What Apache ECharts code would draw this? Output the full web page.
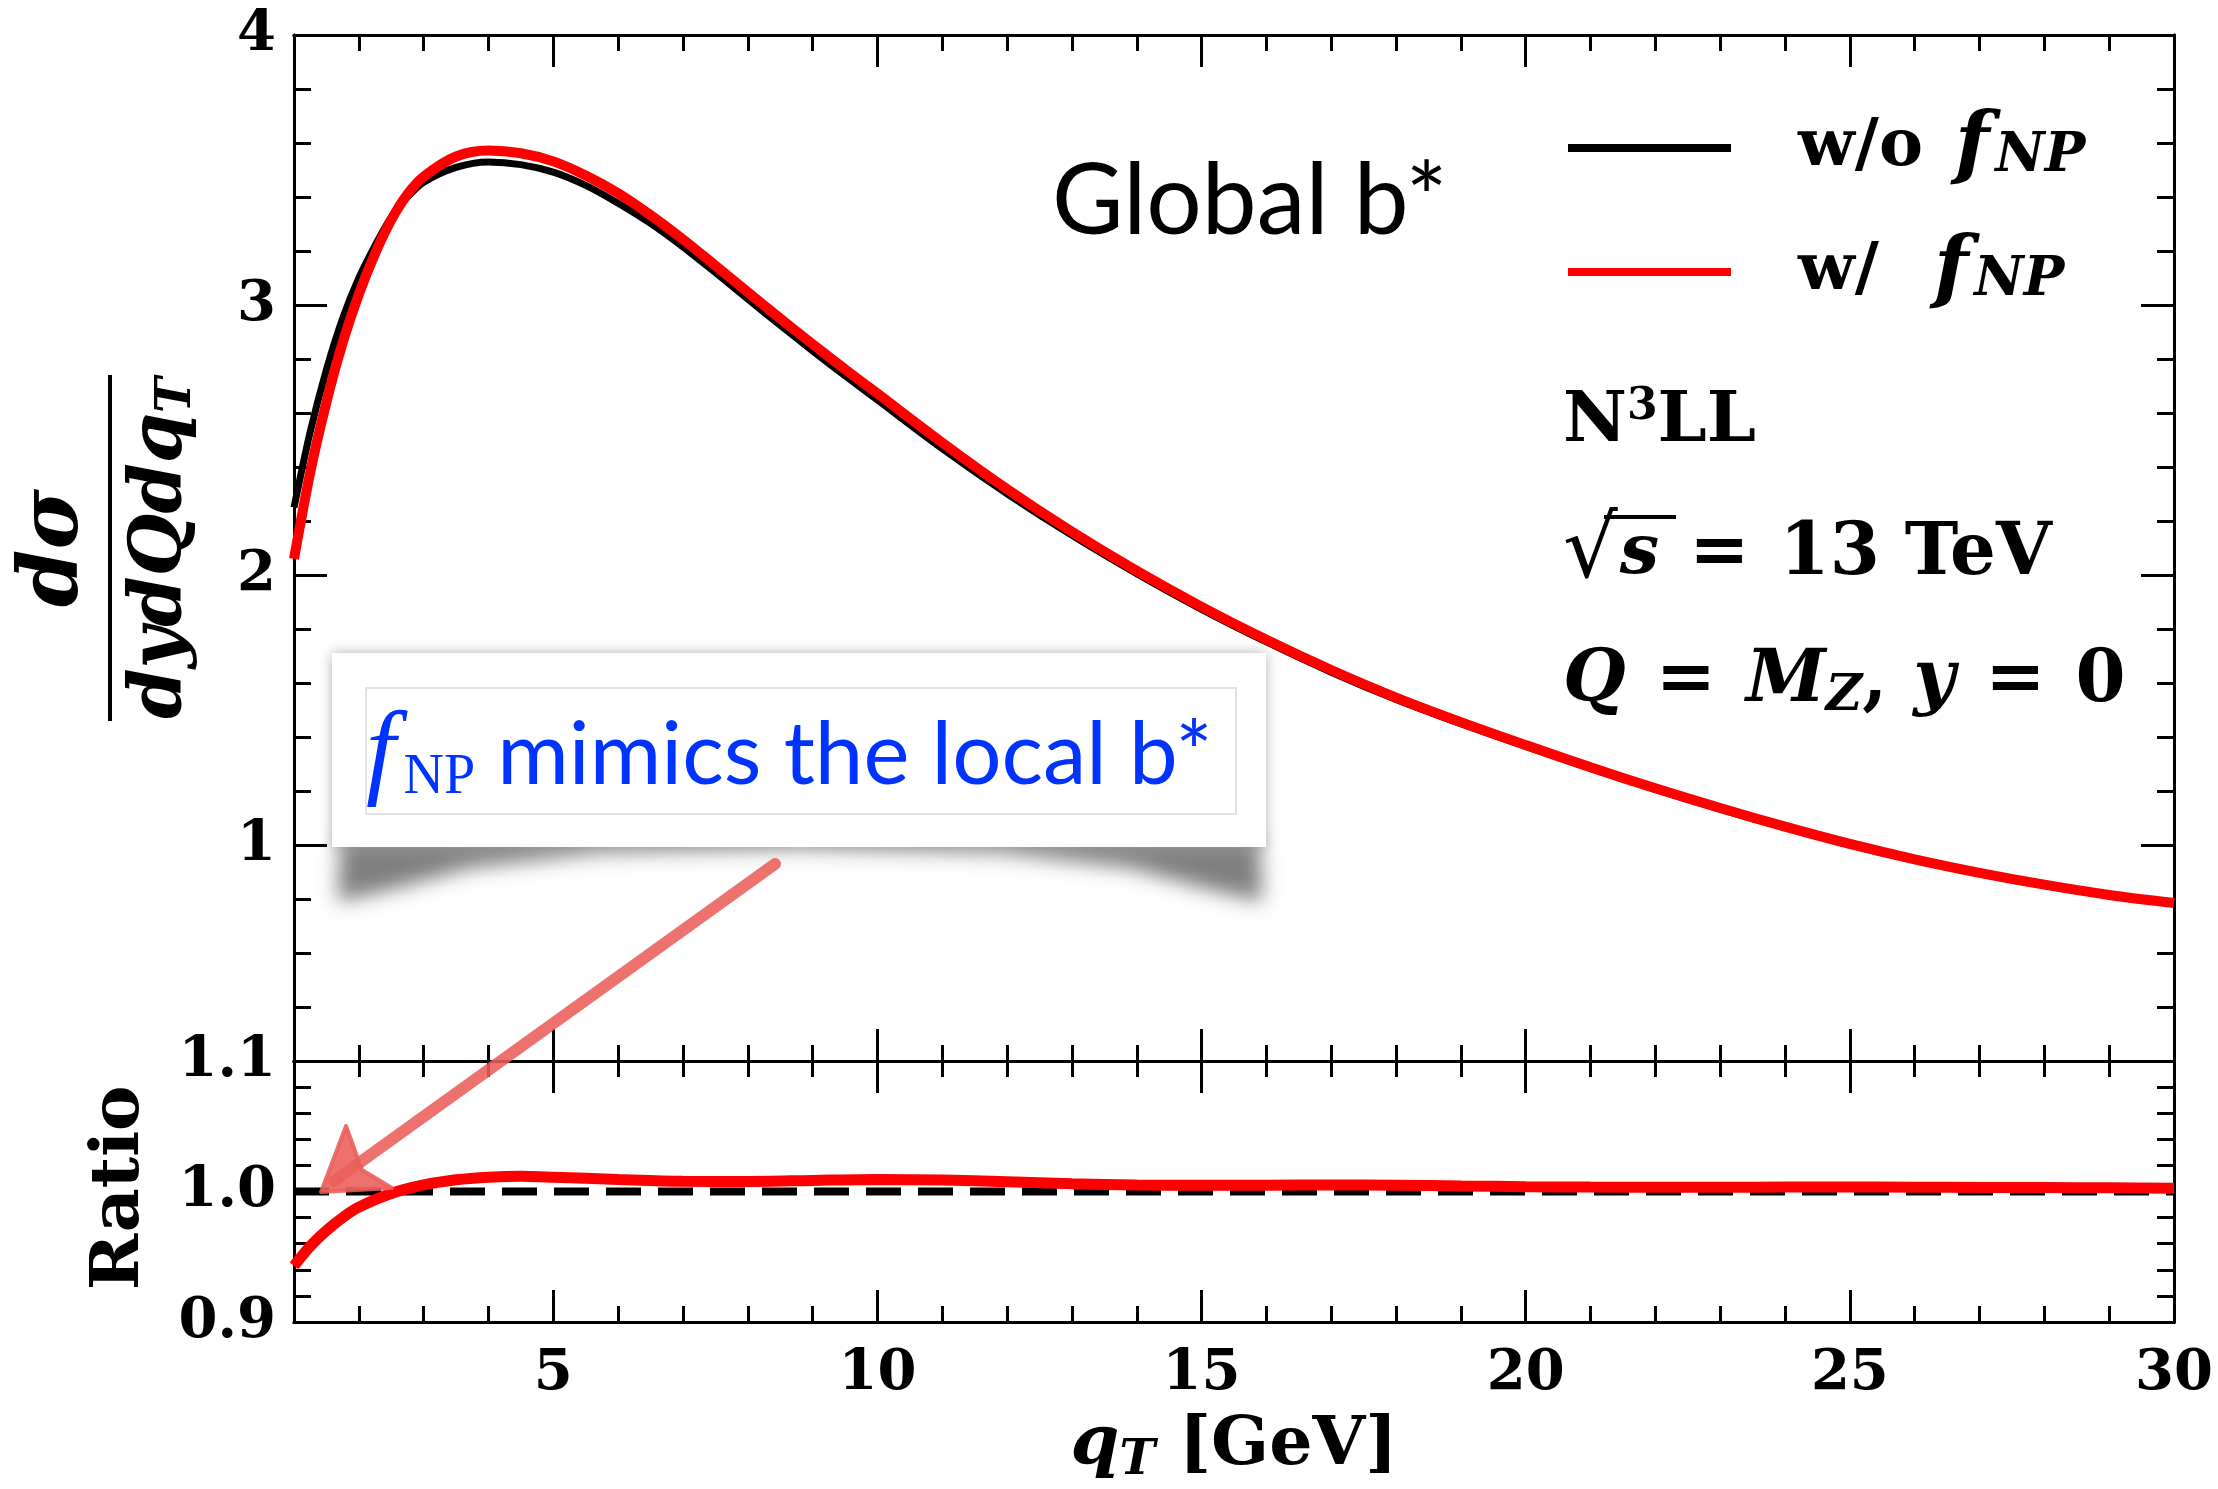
<!DOCTYPE html>
<html>
<head>
<meta charset="utf-8">
<title>Global b*</title>
<script src="https://cdn.jsdelivr.net/npm/echarts@6/dist/echarts.min.js"></script>
<style>
	html, body { margin: 0; padding: 0; background: #fff; }
	#chart { width: 2218px; height: 1489px; }
</style>
</head>
<body>
<div id="chart"></div>
<script>
// upper panel: q_T grid and the two cross sections
const qT = [1, 1.25, 1.5, 1.75, 2, 2.25, 2.5, 2.75, 3, 3.5, 4, 4.5, 5, 5.5, 6, 6.5, 7, 7.5, 8, 8.5, 9, 9.5, 10, 11, 12, 13, 14, 15, 16, 17, 18, 19, 20, 21, 22, 23, 24, 25, 26, 27, 28, 29, 30]
const withoutNP = [2.25, 2.53, 2.76, 2.95, 3.10, 3.22, 3.325, 3.40, 3.455, 3.51, 3.53, 3.52, 3.492, 3.443, 3.377, 3.302, 3.215, 3.12, 3.022, 2.925, 2.83, 2.738, 2.648, 2.468, 2.301, 2.147, 2.005, 1.873, 1.752, 1.64, 1.539, 1.449, 1.365, 1.284, 1.206, 1.133, 1.064, 1.0, 0.944, 0.894, 0.851, 0.813, 0.783]
const withNP = [2.06, 2.38, 2.64, 2.86, 3.04, 3.19, 3.315, 3.41, 3.475, 3.55, 3.572, 3.562, 3.532, 3.48, 3.414, 3.333, 3.243, 3.146, 3.048, 2.95, 2.855, 2.762, 2.672, 2.49, 2.318, 2.16, 2.015, 1.882, 1.76, 1.648, 1.546, 1.455, 1.37, 1.288, 1.21, 1.137, 1.068, 1.004, 0.947, 0.897, 0.853, 0.815, 0.785]

// lower panel: ratio w/ over w/o
const ratioQt = [1, 1.25, 1.5, 1.75, 2, 2.5, 3, 3.5, 4, 4.5, 5, 6, 7, 8, 9, 10, 11, 12, 13, 14, 15, 16, 17, 18, 19, 20, 21, 22, 23, 24, 25, 26, 27, 28, 29, 30]
const ratio = [0.943, 0.958, 0.970, 0.980, 0.988, 0.9985, 1.005, 1.009, 1.011, 1.0117, 1.011, 1.0092, 1.0078, 1.0077, 1.0085, 1.0092, 1.0088, 1.0075, 1.006, 1.005, 1.0047, 1.0048, 1.005, 1.0048, 1.0042, 1.0037, 1.0034, 1.0033, 1.0033, 1.0034, 1.0034, 1.0033, 1.0031, 1.003, 1.0028, 1.0025]
const unity = [1, 1]
const unityQt = [1, 30]

// ticks and tick labels
const xLabels = [5, 10, 15, 20, 25, 30]
const xMajor = [5, 10, 15, 20, 25]
const xMinor = [2, 3, 4, 6, 7, 8, 9, 11, 12, 13, 14, 16, 17, 18, 19, 21, 22, 23, 24, 26, 27, 28, 29]
const sigmaLabels = [1, 2, 3, 4]
const sigmaMajor = [1, 2, 3]
const sigmaMinor = [0.4, 0.6, 0.8, 1.2, 1.4, 1.6, 1.8, 2.2, 2.4, 2.6, 2.8, 3.2, 3.4, 3.6, 3.8]
const ratioLabels = [0.9, 1.0, 1.1]
const ratioMajor = [1.0]
const ratioMinor = [0.92, 0.94, 0.96, 0.98, 1.02, 1.04, 1.06, 1.08]

const serif = 'DejaVu Serif'
const axisStroke = { color: '#000', width: 3 }
const BLUE = '#0033ff'
const ARROW = '#ea5f5a'

const xAxisOf = (grid, position, ticks, len, labels) => ({
	type: 'value',
	gridIndex: grid,
	position,
	min: 1,
	max: 30,
	axisLine: { show: true, onZero: false, lineStyle: axisStroke },
	axisTick: { show: true, inside: true, length: len, customValues: ticks, lineStyle: axisStroke },
	axisLabel: labels
		? { show: true, customValues: labels, margin: 24, color: '#000', fontFamily: serif, fontWeight: 'bold', fontSize: 56 }
		: { show: false },
	splitLine: { show: false }
})

const yAxisOf = (grid, position, min, max, ticks, len, labels, fmt) => ({
	type: 'value',
	gridIndex: grid,
	position,
	min,
	max,
	axisLine: { show: true, onZero: false, lineStyle: axisStroke },
	axisTick: { show: true, inside: true, length: len, customValues: ticks, lineStyle: axisStroke },
	axisLabel: labels
		? { show: true, customValues: labels, margin: 18, color: '#000', fontFamily: serif, fontWeight: 'bold', fontSize: 56, formatter: fmt }
		: { show: false },
	splitLine: { show: false }
})

const pairs = (xs, ys) => xs.map((x, i) => [x, ys[i]])

const chart = echarts.init(document.getElementById('chart'))

// math-like rich text pieces
const bold = (size, lh) => ({ fontFamily: serif, fontWeight: 'bold', fontSize: size, lineHeight: lh, color: '#000', fill: '#000' })
const ital = (size, lh) => ({ fontFamily: serif, fontStyle: 'italic', fontWeight: 'bold', fontSize: size, lineHeight: lh, color: '#000', fill: '#000' })
const sub = (size, lh) => ({ ...ital(size, lh), verticalAlign: 'bottom' })

const legendRich = {
	gap: { width: 62 },
	b: bold(66, 72),
	f: { ...ital(80, 72), padding: [0, 6, 0, 32] },
	s: sub(54, 36)
}

const option = {
	animation: false,
	backgroundColor: '#fff',
	grid: [
		{ left: 294, top: 35, width: 1880, height: 1026 },
		{ left: 294, top: 1061, width: 1880, height: 261 }
	],
	xAxis: [
		xAxisOf(0, 'bottom', xMajor, 32),
		xAxisOf(0, 'bottom', xMinor, 16),
		xAxisOf(0, 'top', xMajor, 32),
		xAxisOf(0, 'top', xMinor, 16),
		xAxisOf(1, 'bottom', xMajor, 32, xLabels),
		xAxisOf(1, 'bottom', xMinor, 16),
		xAxisOf(1, 'top', xMajor, 32),
		xAxisOf(1, 'top', xMinor, 16)
	],
	yAxis: [
		yAxisOf(0, 'left', 0.2, 4, sigmaMajor, 33, sigmaLabels),
		yAxisOf(0, 'left', 0.2, 4, sigmaMinor, 17),
		yAxisOf(0, 'right', 0.2, 4, sigmaMajor, 33),
		yAxisOf(0, 'right', 0.2, 4, sigmaMinor, 17),
		yAxisOf(1, 'left', 0.9, 1.1, ratioMajor, 33, ratioLabels, (v) => v.toFixed(1)),
		yAxisOf(1, 'left', 0.9, 1.1, ratioMinor, 17),
		yAxisOf(1, 'right', 0.9, 1.1, ratioMajor, 33),
		yAxisOf(1, 'right', 0.9, 1.1, ratioMinor, 17)
	],
	legend: {
		orient: 'vertical',
		left: 1563,
		top: 103,
		itemWidth: 163,
		itemHeight: 8,
		itemGap: 44,
		icon: 'rect',
		data: ['wo', 'w'],
		formatter: (name) => (name === 'wo' ? '{gap|}{b|w/o}{f|f}{s|NP}' : '{gap|}{b|w/ }{f|f}{s|NP}'),
		textStyle: { rich: legendRich }
	},
	series: [
		{
			name: 'wo',
			type: 'line',
			xAxisIndex: 0,
			yAxisIndex: 0,
			data: pairs(qT, withoutNP),
			showSymbol: false,
			smooth: 0.3,
			color: '#000',
			lineStyle: { color: '#000', width: 7 },
			z: 3
		},
		{
			name: 'w',
			type: 'line',
			xAxisIndex: 0,
			yAxisIndex: 0,
			data: pairs(qT, withNP),
			showSymbol: false,
			smooth: 0.3,
			color: '#ff0000',
			lineStyle: { color: '#ff0000', width: 10 },
			z: 4
		},
		{
			name: 'unity',
			type: 'line',
			xAxisIndex: 4,
			yAxisIndex: 4,
			data: pairs(unityQt, unity),
			showSymbol: false,
			lineStyle: { color: '#000', width: 8, type: [35, 17] },
			z: 3
		},
		{
			name: 'ratio',
			type: 'line',
			xAxisIndex: 4,
			yAxisIndex: 4,
			data: pairs(ratioQt, ratio),
			showSymbol: false,
			smooth: 0.3,
			lineStyle: { color: '#ff0000', width: 11 },
			z: 4
		}
	],
	graphic: [
		// curled shadow under the note (shape kept off screen, only its blur is drawn)
		{
			type: 'polygon',
			z: 90,
			shape: {
				points: [[-2660, 842], [-1740, 842], [-1738, 902], [-1790, 890], [-1870, 868], [-2000, 853], [-2200, 849], [-2400, 853], [-2530, 868], [-2610, 890], [-2662, 902]]
			},
			style: { fill: '#000', shadowBlur: 20, shadowColor: 'rgba(0,0,0,0.5)', shadowOffsetX: 3000 }
		},
		{
			type: 'rect',
			z: 91,
			shape: { x: 332, y: 653, width: 934, height: 194 },
			style: { fill: '#fff', shadowBlur: 12, shadowColor: 'rgba(0,0,0,0.3)' }
		},
		{
			type: 'rect',
			z: 92,
			shape: { x: 366, y: 688, width: 870, height: 126 },
			style: { fill: 'none', stroke: '#e2e2e2', lineWidth: 2 }
		},
		{
			type: 'text',
			z: 93,
			x: 366,
			y: 756,
			style: {
				text: '{f|f}{np|NP}{t| mimics the local b*}',
				verticalAlign: 'middle',
				rich: {
					f: { fontFamily: 'Liberation Serif', fontStyle: 'italic', fontSize: 106, lineHeight: 100, padding: [0, 8, 0, 0], fill: BLUE },
					np: { fontFamily: 'Liberation Serif', fontSize: 56, lineHeight: 66, verticalAlign: 'bottom', fill: BLUE },
					t: { fontFamily: 'Lato', fontSize: 87, lineHeight: 100, fill: BLUE }
				}
			}
		},
		// hand drawn arrow towards the ratio at small q_T
		{
			type: 'polyline',
			z: 95,
			shape: { points: [[775, 864], [334, 1181]] },
			style: { stroke: ARROW, lineWidth: 12, lineCap: 'round', opacity: 0.88 }
		},
		{
			type: 'polygon',
			z: 95,
			shape: { points: [[346, 1126], [321, 1192], [392, 1188], [362, 1170]] },
			style: { fill: ARROW, stroke: ARROW, lineWidth: 4, lineJoin: 'round', opacity: 0.88 }
		},
		{
			type: 'text',
			z: 80,
			x: 1052,
			y: 202,
			style: { text: 'Global b*', fontFamily: 'Lato', fontSize: 98, fill: '#000', verticalAlign: 'middle' }
		},
		{
			type: 'text',
			z: 80,
			x: 1563,
			y: 423,
			style: {
				text: '{b|N}{p|3}{b|LL}',
				verticalAlign: 'middle',
				rich: {
					b: bold(70, 74),
					p: { ...bold(44, 46), verticalAlign: 'top' }
				}
			}
		},
		{
			type: 'text',
			z: 80,
			x: 1563,
			y: 555,
			style: {
				text: '{r|√}{i|s}{e|=}{b|13 TeV}',
				verticalAlign: 'middle',
				rich: {
					r: { fontFamily: serif, fontSize: 86, lineHeight: 80, fill: '#000' },
					i: { ...ital(70, 80), padding: [0, 0, 0, 2] },
					e: { ...bold(72, 80), padding: [0, 30, 0, 30] },
					b: bold(72, 80)
				}
			}
		},
		{
			type: 'line',
			z: 80,
			shape: { x1: 1604, y1: 517, x2: 1676, y2: 517 },
			style: { stroke: '#000', lineWidth: 4 }
		},
		{
			type: 'text',
			z: 80,
			x: 1563,
			y: 682,
			style: {
				text: '{i|Q}{e|=}{i|M}{s|Z}{b|,}{y|y}{e|=}{b|0}',
				verticalAlign: 'middle',
				rich: {
					i: ital(72, 80),
					y: { ...ital(72, 80), padding: [0, 0, 0, 26] },
					s: sub(50, 42),
					e: { ...bold(72, 80), padding: [0, 30, 0, 30] },
					b: bold(72, 80)
				}
			}
		},
		// y title of the upper panel: d sigma / dy dQ dq_T
		{
			type: 'group',
			x: 110,
			y: 548,
			rotation: Math.PI / 2,
			z: 80,
			children: [
				{
					type: 'text',
					x: 0,
					y: -54,
					style: { ...ital(82, 90), text: 'dσ', align: 'center', verticalAlign: 'middle' }
				},
				{
					type: 'line',
					shape: { x1: -173, y1: 0, x2: 173, y2: 0 },
					style: { stroke: '#000', lineWidth: 4 }
				},
				{
					type: 'text',
					x: 0,
					y: 52,
					style: {
						text: '{i|dydQdq}{s|T}',
						align: 'center',
						verticalAlign: 'middle',
						rich: { i: ital(72, 80), s: sub(48, 44) }
					}
				}
			]
		},
		{
			type: 'text',
			z: 80,
			x: 120,
			y: 1188,
			rotation: Math.PI / 2,
			style: { ...bold(68, 80), text: 'Ratio', align: 'center', verticalAlign: 'middle' }
		},
		{
			type: 'text',
			z: 80,
			x: 1234,
			y: 1446,
			style: {
				text: '{q|q}{t|T}{b| [GeV]}',
				align: 'center',
				verticalAlign: 'middle',
				rich: { q: ital(70, 80), t: sub(48, 48), b: bold(68, 80) }
			}
		}
	]
}

chart.setOption(option)
</script>
</body>
</html>
